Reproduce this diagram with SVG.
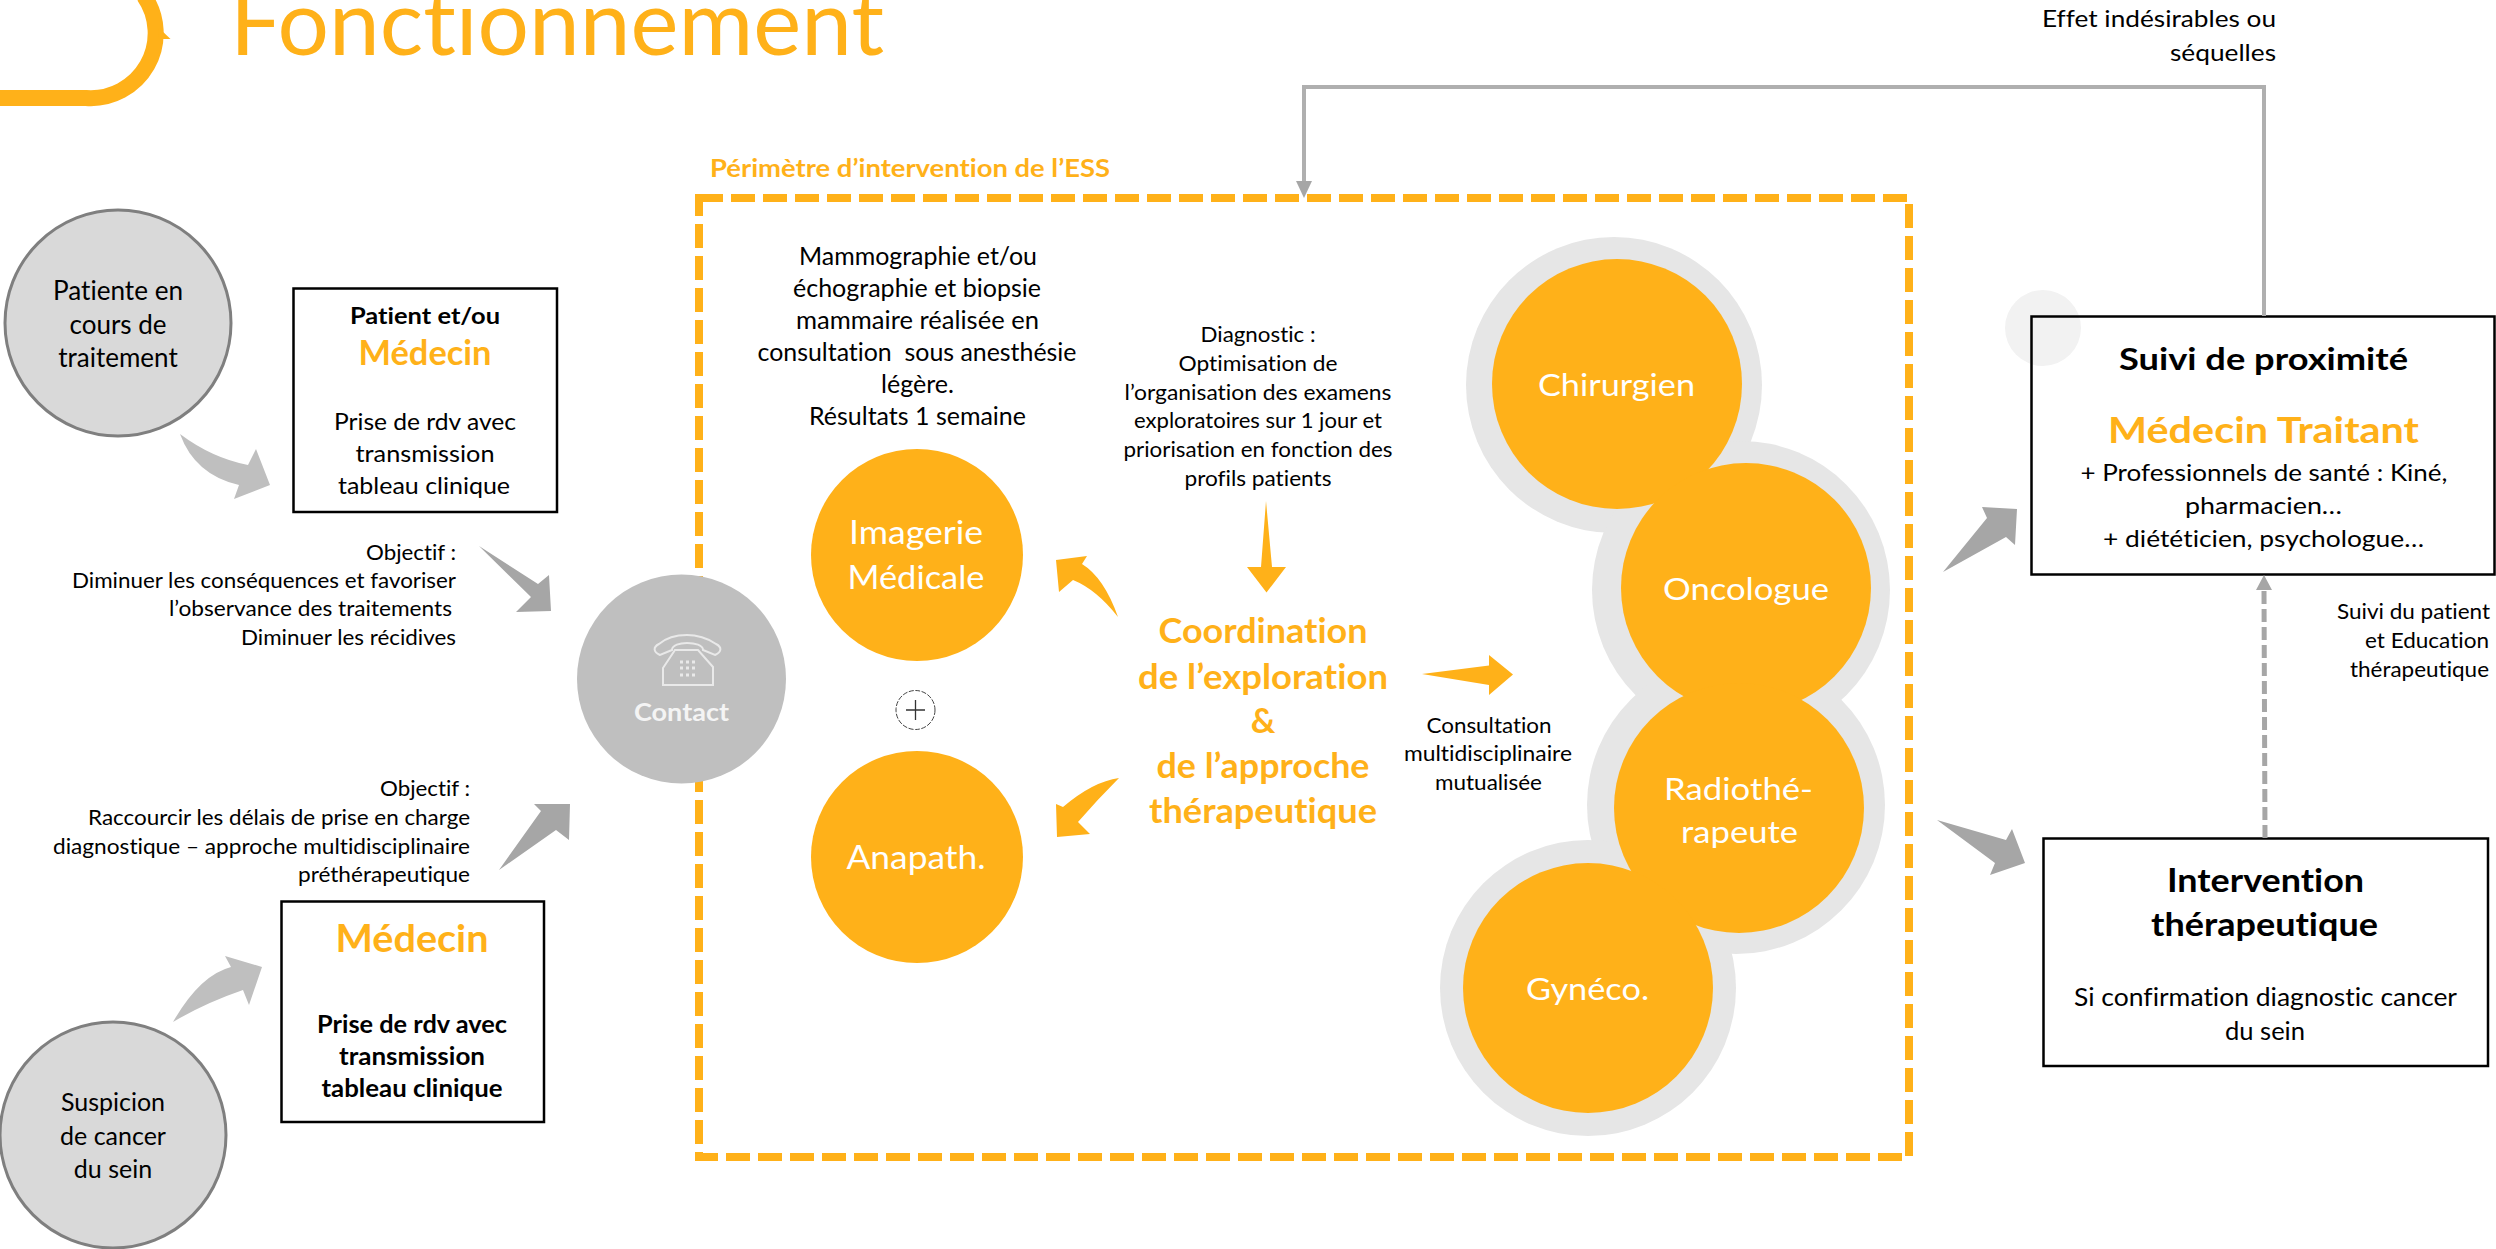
<svg xmlns="http://www.w3.org/2000/svg" width="2496" height="1249" viewBox="0 0 2496 1249">
<style>
text{font-family:"Lato","Open Sans","Liberation Sans",sans-serif;fill:#000;text-anchor:middle;font-variant-ligatures:none}
.o{fill:#ffb119}.w{fill:#fff}.b{font-weight:700}.e{text-anchor:end}.s{text-anchor:start}
.f21{font-size:21px}.f23{font-size:23px}.f24{font-size:24px}.f25{font-size:25px}.f26{font-size:26px}
.f30{font-size:30px}.f33{font-size:33px}.f36{font-size:36px}
.box{fill:none;stroke:#000;stroke-width:2.5}
.src{fill:#d9d9d9;stroke:#7f7f7f;stroke-width:3}
.orange{fill:#ffb119}.halo{fill:#e6e6e6}
.arL{fill:#bfbfbf}.arD{fill:#a6a6a6}
.ln{fill:none;stroke:#afafaf;stroke-width:4}
.ph{fill:none;stroke:#e9e9e9;stroke-width:2}
</style>

<g id="title">
<path d="M0,98H86A65,65 0 0 0 144,-4" fill="none" stroke="#ffb119" stroke-width="16"/>
<polygon points="159,28 170.500,39 158,39" class="orange"/>
<text x="230" y="55" class="s o" font-size="92" textLength="654" lengthAdjust="spacingAndGlyphs">Fonctionnement</text>
</g>

<g id="perimetre">
<rect x="699" y="198" width="1210" height="959" fill="none" stroke="#ffb119" stroke-width="8" stroke-dasharray="24 8"/>
<text x="710" y="177" class="s o b f25" textLength="400" lengthAdjust="spacingAndGlyphs">Périmètre d’intervention de l’ESS</text>
</g>

<g id="patiente">
<circle cx="118" cy="323" r="113" class="src"/>
<text class="f26"><tspan x="118" y="300" textLength="130" lengthAdjust="spacingAndGlyphs">Patiente en</tspan><tspan x="118" y="334">cours de</tspan><tspan x="118" y="367">traitement</tspan></text>
</g>

<g id="suspicion">
<circle cx="113" cy="1135" r="113" class="src"/>
<text class="f25"><tspan x="113" y="1111">Suspicion</tspan><tspan x="113" y="1145">de cancer</tspan><tspan x="113" y="1178">du sein</tspan></text>
</g>

<g id="medecin1">
<rect x="293.500" y="288.500" width="263.500" height="223.500" class="box"/>
<text x="425" y="324" class="b f23" textLength="150" lengthAdjust="spacingAndGlyphs">Patient et/ou</text>
<text x="425" y="365" class="o b" font-size="34" textLength="133" lengthAdjust="spacingAndGlyphs">Médecin</text>
<text x="425" y="430" class="f24" textLength="182" lengthAdjust="spacingAndGlyphs">Prise de rdv avec</text>
<text x="425" y="462" class="f24" textLength="139" lengthAdjust="spacingAndGlyphs">transmission</text>
<text x="424" y="494" class="f24" textLength="172" lengthAdjust="spacingAndGlyphs">tableau clinique</text>
</g>

<g id="medecin2">
<rect x="281.500" y="901.500" width="262.500" height="220.500" class="box"/>
<text x="412" y="952" class="o b" font-size="38" textLength="153" lengthAdjust="spacingAndGlyphs">Médecin</text>
<text x="412" y="1033" class="b f24" textLength="190" lengthAdjust="spacingAndGlyphs">Prise de rdv avec</text>
<text x="412" y="1065" class="b f24" textLength="146" lengthAdjust="spacingAndGlyphs">transmission</text>
<text x="412" y="1097" class="b f24" textLength="181" lengthAdjust="spacingAndGlyphs">tableau clinique</text>
</g>

<g id="objectif1">
<text x="456" y="560" class="e f21" textLength="90" lengthAdjust="spacingAndGlyphs">Objectif :</text>
<text x="456" y="588" class="e f21" textLength="384" lengthAdjust="spacingAndGlyphs">Diminuer les conséquences et favoriser</text>
<text x="452" y="616" class="e f21" textLength="283" lengthAdjust="spacingAndGlyphs">l’observance des traitements</text>
<text x="456" y="645" class="e f21" textLength="215" lengthAdjust="spacingAndGlyphs">Diminuer les récidives</text>
</g>

<g id="objectif2">
<text x="470" y="796" class="e f21" textLength="90" lengthAdjust="spacingAndGlyphs">Objectif :</text>
<text x="470" y="825" class="e f21" textLength="382" lengthAdjust="spacingAndGlyphs">Raccourcir les délais de prise en charge</text>
<text x="470" y="854" class="e f21" textLength="417" lengthAdjust="spacingAndGlyphs">diagnostique – approche multidisciplinaire</text>
<text x="470" y="882" class="e f21" textLength="172" lengthAdjust="spacingAndGlyphs">préthérapeutique</text>
</g>

<g id="contact">
<circle cx="681.500" cy="679" r="104.500" fill="#bfbfbf"/>
<path class="ph" d="M663,685V668L675,650H698L713,667V685Z"/>
<path class="ph" d="M672,650C672,645 680,643 687,643C695,643 703,645 703,650L715,655C722,652 722,647 716,644C708,638 696,635 687,635C677,635 666,638 659,644C653,647 653,652 660,655Z"/>
<path d="M680,662h3M686,662h3M692,662h3M680,668h3M686,668h3M692,668h3M680,675h3M686,675h3M692,675h3" stroke="#e9e9e9" stroke-width="3" fill="none"/>
<text x="681.500" y="721" class="b f25" style="fill:#f4f4f4" textLength="95" lengthAdjust="spacingAndGlyphs">Contact</text>
</g>

<g id="mammographie">
<text x="918" y="265" class="f25" textLength="238" lengthAdjust="spacingAndGlyphs">Mammographie et/ou</text>
<text x="917" y="297" class="f25" textLength="248" lengthAdjust="spacingAndGlyphs">échographie et biopsie</text>
<text x="917.500" y="329" class="f25" textLength="243" lengthAdjust="spacingAndGlyphs">mammaire réalisée en</text>
<text x="917" y="361" class="f25" textLength="319" lengthAdjust="spacingAndGlyphs" xml:space="preserve">consultation  sous anesthésie</text>
<text x="917.500" y="393" class="f25" textLength="73" lengthAdjust="spacingAndGlyphs">légère.</text>
<text x="917.500" y="425" class="f25" textLength="217" lengthAdjust="spacingAndGlyphs">Résultats 1 semaine</text>
</g>

<g id="diagnostic">
<text x="1258" y="342" class="f21" textLength="115" lengthAdjust="spacingAndGlyphs">Diagnostic :</text>
<text x="1258" y="371" class="f21" textLength="159" lengthAdjust="spacingAndGlyphs">Optimisation de</text>
<text x="1258" y="400" class="f21" textLength="267" lengthAdjust="spacingAndGlyphs">l’organisation des examens</text>
<text x="1258" y="428" class="f21" textLength="248" lengthAdjust="spacingAndGlyphs">exploratoires sur 1 jour et</text>
<text x="1258" y="457" class="f21" textLength="269" lengthAdjust="spacingAndGlyphs">priorisation en fonction des</text>
<text x="1258" y="486" class="f21" textLength="147" lengthAdjust="spacingAndGlyphs">profils patients</text>
</g>

<g id="imagerie">
<circle cx="917" cy="555" r="106" class="orange"/>
<text x="916" y="544" class="w f33" textLength="134" lengthAdjust="spacingAndGlyphs">Imagerie</text>
<text x="916" y="589" class="w f33" textLength="137" lengthAdjust="spacingAndGlyphs">Médicale</text>
</g>

<g id="plus">
<circle cx="915.500" cy="710" r="19.500" fill="none" stroke="#444" stroke-width="1" stroke-dasharray="5 1.500"/>
<path d="M906,710H925M915.500,700V720" fill="none" stroke="#333" stroke-width="1.300"/>
</g>

<g id="anapath">
<circle cx="917" cy="857" r="106" class="orange"/>
<text x="916" y="869" class="w f33" textLength="139" lengthAdjust="spacingAndGlyphs">Anapath.</text>
</g>

<g id="coordination">
<text x="1263" y="643" class="o b" font-size="34" textLength="209" lengthAdjust="spacingAndGlyphs">Coordination</text>
<text x="1263" y="689" class="o b" font-size="34" textLength="250" lengthAdjust="spacingAndGlyphs">de l’exploration</text>
<text x="1263" y="733" class="o b" font-size="34">&amp;</text>
<text x="1263" y="778" class="o b" font-size="34" textLength="213" lengthAdjust="spacingAndGlyphs">de l’approche</text>
<text x="1263" y="823" class="o b" font-size="34" textLength="228" lengthAdjust="spacingAndGlyphs">thérapeutique</text>
</g>

<g id="consultation">
<text x="1489" y="733" class="f21" textLength="125" lengthAdjust="spacingAndGlyphs">Consultation</text>
<text x="1488" y="761" class="f21" textLength="168" lengthAdjust="spacingAndGlyphs">multidisciplinaire</text>
<text x="1488.500" y="790" class="f21" textLength="107" lengthAdjust="spacingAndGlyphs">mutualisée</text>
</g>

<g id="specialistes">
<circle cx="1614" cy="385" r="148" class="halo"/>
<circle cx="1741" cy="590" r="149" class="halo"/>
<circle cx="1736" cy="805" r="149" class="halo"/>
<circle cx="1588" cy="988" r="148" class="halo"/>
<circle cx="1617" cy="384" r="125" class="orange"/>
<circle cx="1746" cy="588" r="125" class="orange"/>
<circle cx="1739" cy="808" r="125" class="orange"/>
<circle cx="1588" cy="988" r="125" class="orange"/>
</g>
<g id="chirurgien"><text x="1616.500" y="396" class="w f30" textLength="157" lengthAdjust="spacingAndGlyphs">Chirurgien</text></g>
<g id="oncologue"><text x="1746" y="600" class="w f30" textLength="166" lengthAdjust="spacingAndGlyphs">Oncologue</text></g>
<g id="radiotherapeute">
<text x="1738.500" y="800" class="w f30" textLength="149" lengthAdjust="spacingAndGlyphs">Radiothé-</text>
<text x="1739.500" y="843" class="w f30" textLength="117" lengthAdjust="spacingAndGlyphs">rapeute</text>
</g>
<g id="gyneco"><text x="1587.500" y="1000" class="w f30" textLength="123" lengthAdjust="spacingAndGlyphs">Gynéco.</text></g>

<circle cx="2043" cy="328" r="38" fill="#f2f2f2"/>

<g id="suivi">
<rect x="2031.500" y="316.500" width="463" height="258" class="box"/>
<text x="2263.500" y="370" class="b" font-size="31" textLength="289" lengthAdjust="spacingAndGlyphs">Suivi de proximité</text>
<text x="2263.500" y="443" class="o b f36" textLength="311" lengthAdjust="spacingAndGlyphs">Médecin Traitant</text>
<text x="2264" y="481" class="f24" textLength="367" lengthAdjust="spacingAndGlyphs">+ Professionnels de santé : Kiné,</text>
<text x="2263.500" y="514" class="f24" textLength="157" lengthAdjust="spacingAndGlyphs">pharmacien…</text>
<text x="2263.500" y="547" class="f24" textLength="321" lengthAdjust="spacingAndGlyphs">+ diététicien, psychologue…</text>
</g>

<g id="intervention">
<rect x="2043.500" y="838.500" width="444.500" height="227.500" class="box"/>
<text x="2265.500" y="892" class="b" font-size="33" textLength="197" lengthAdjust="spacingAndGlyphs">Intervention</text>
<text x="2264.500" y="936" class="b" font-size="33" textLength="227" lengthAdjust="spacingAndGlyphs">thérapeutique</text>
<text x="2265.500" y="1006" class="f25" textLength="383" lengthAdjust="spacingAndGlyphs">Si confirmation diagnostic cancer</text>
<text x="2265" y="1040" class="f25" textLength="80" lengthAdjust="spacingAndGlyphs">du sein</text>
</g>

<g id="effet">
<text x="2276" y="27" class="e f24" textLength="234" lengthAdjust="spacingAndGlyphs">Effet indésirables ou</text>
<text x="2276" y="61" class="e f24" textLength="106" lengthAdjust="spacingAndGlyphs">séquelles</text>
</g>

<g id="suivi-patient">
<text x="2490" y="619" class="e f21" textLength="153" lengthAdjust="spacingAndGlyphs">Suivi du patient</text>
<text x="2489" y="648" class="e f21" textLength="124" lengthAdjust="spacingAndGlyphs">et Education</text>
<text x="2489" y="677" class="e f21" textLength="139" lengthAdjust="spacingAndGlyphs">thérapeutique</text>
</g>

<g id="connectors">
<path class="ln" d="M2264,316V87H1304V184"/>
<polygon points="1296,181 1312,181 1304,198" fill="#a6a6a6"/>
<path class="ln" d="M2265,838L2264,590" stroke-dasharray="13 5" style="stroke:#a6a6a6;stroke-width:5"/>
<polygon points="2256,590 2272,590 2264,575" fill="#a6a6a6"/>
<path class="arL" d="M180,434Q212,458 248,465L256,449L270,485L234,499L239,485Q195,475 180,434Z"/>
<path class="arD" d="M479,546L538,584L549,575L551,611L516,612L531,597Z"/>
<path class="arD" d="M499,870L541,811L534,804H570L569,840L556,830Z"/>
<path class="arL" d="M173,1022Q200,975 231,967L225,956L262,967L249,1005L243,990Q205,1003 173,1022Z"/>
<path class="orange" d="M1118,617Q1104,577.500 1082,564L1087,556L1056,560L1059,592L1073,580Q1096.500,589.500 1118,617Z"/>
<path class="orange" d="M1119,778Q1093,781.500 1063,807L1056,804L1057,837L1090,834L1078,822Q1097,800 1119,778Z"/>
<path class="orange" d="M1266,501L1272,567H1286L1266.500,592.500L1247,567H1261Z"/>
<path class="orange" d="M1422,674L1489,665.500V655L1513,674.500L1489,695V685Z"/>
<path class="arD" d="M1943,572L1987,518L1982,507L2017,509L2015,545L2006,537Z"/>
<path class="arD" d="M1937,820L2006,840L2012,829L2025,863L1990,875L1995,863Z"/>
</g>
</svg>
